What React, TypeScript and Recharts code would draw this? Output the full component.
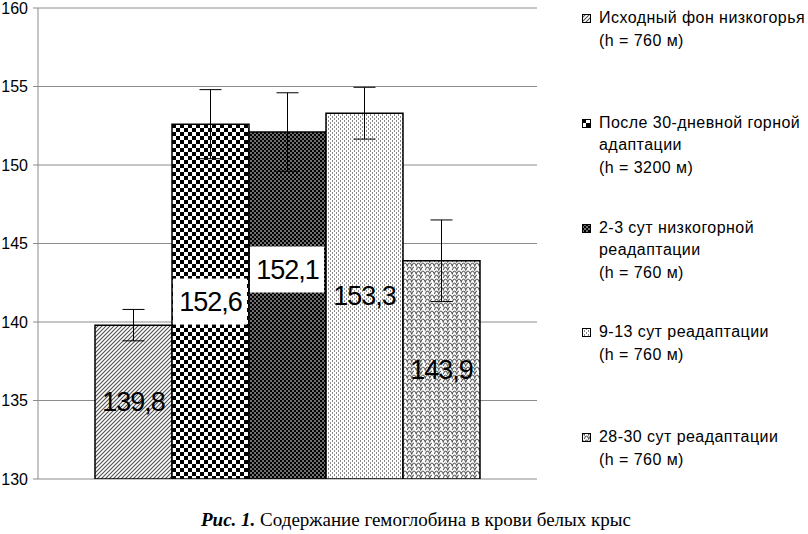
import React from "react";
import { BarChart, Bar, XAxis, YAxis, CartesianGrid, ErrorBar, LabelList } from "recharts";

// one category, five series (hemoglobin content)
const seriesKeys = ["s0", "s1", "s2", "s3", "s4"];
const seriesValues = [139.8, 152.6, 152.1, 153.3, 143.9];
const seriesErrors = [1.0, 2.2, 2.5, 1.65, 2.6];
const seriesNames = [
    ["Исходный фон низкогорья", "(h = 760 м)"],
    ["После 30-дневной горной", "адаптации", "(h = 3200 м)"],
    ["2-3 сут низкогорной", "реадаптации", "(h = 760 м)"],
    ["9-13 сут реадаптации", "(h = 760 м)"],
    ["28-30 сут реадаптации", "(h = 760 м)"],
];
const yTicks = [130, 135, 140, 145, 150, 155, 160];
const caption = "Содержание гемоглобина в крови белых крыс";

// label styling per series (white box + vertical shift)
const labelBox = [false, true, true, false, false];
const labelShift = [0, 0, -36, 0, 0];

const FONT = '"Liberation Sans", Arial, sans-serif';
const GRID = "#8c8c8c";

const data = [
    seriesKeys.reduce((row: any, key, i) => {
        row[key] = seriesValues[i];
        row["e" + i] = seriesErrors[i];
        return row;
    }, { name: "" }),
];

const fmt = (v: number) => v.toFixed(1).replace(".", ",");

function Patterns() {
    return (
        <defs>
            <pattern id="pat0" width="4" height="4" patternUnits="userSpaceOnUse">
                <rect width="4" height="4" fill="#fff" />
                <path d="M-1,1 l2,-2 M0,4 l4,-4 M3,5 l2,-2" stroke="#505050" strokeWidth="1.1" />
            </pattern>
            <pattern id="pat1" width="8" height="8" patternUnits="userSpaceOnUse">
                <rect width="8" height="8" fill="#fff" />
                <rect width="4" height="4" fill="#000" />
                <rect x="4" y="4" width="4" height="4" fill="#000" />
            </pattern>
            <pattern id="pat2" width="4" height="4" patternUnits="userSpaceOnUse">
                <rect width="4" height="4" fill="#707070" />
                <rect width="2" height="2" fill="#000" />
                <rect x="2" y="2" width="2" height="2" fill="#000" />
            </pattern>
            <pattern id="pat3" width="4" height="4" patternUnits="userSpaceOnUse">
                <rect width="4" height="4" fill="#fff" />
                <rect width="1" height="2" fill="#8a8a8a" />
                <rect x="2" y="2" width="1" height="2" fill="#8a8a8a" />
            </pattern>
            <pattern id="pat4" width="9" height="8" patternUnits="userSpaceOnUse">
                <rect width="9" height="8" fill="#fff" />
                <path d="M0,6 Q2.25,0 4.5,6 Q6.75,0 9,6 M-4.5,2 Q-2.25,-4 0,2 Q2.25,-4 4.5,2 Q6.75,-4 9,2 Q11.25,-4 13.5,2 M-4.5,10 Q-2.25,4 0,10 Q2.25,4 4.5,10 Q6.75,4 9,10 Q11.25,4 13.5,10"
                    stroke="#5a5a5a" strokeWidth="1.1" fill="none" transform="translate(2.25,0)" />
            </pattern>
        </defs>
    );
}

const makeLabel = (si: number) => (props: any) => {
    const x = Number(props.x), y = Number(props.y);
    const w = Number(props.width), h = Number(props.height);
    const cx = x + w / 2;
    const cy = y + h / 2 + labelShift[si];
    return (
        <g>
            {labelBox[si] && <rect x={x + 1} y={cy - 23} width={w - 3} height={46} fill="#fff" />}
            <text x={cx} y={cy} textAnchor="middle" dominantBaseline="central"
                fontFamily={FONT} fontSize={27} letterSpacing={-1} fill="#000">
                {fmt(Number(props.value))}
            </text>
        </g>
    );
};

function SeriesLegend() {
    return (
        <div style={{ position: "absolute", left: 580, top: 7, width: 228, fontFamily: FONT, fontSize: 16, letterSpacing: 0.45, color: "#000" }}>
            {seriesNames.map((lines, i) => (
                <div key={i} style={{ position: "absolute", top: i * 104.8, left: 0, whiteSpace: "nowrap", lineHeight: "22.5px" }}>
                    <svg width={9} height={9} style={{ position: "absolute", left: 2, top: 7 }}>
                        <rect x={0.5} y={0.5} width={8} height={8} fill={`url(#pat${i})`} stroke="#000" strokeWidth={1} />
                    </svg>
                    {lines.map((t, j) => (
                        <div key={j} style={{ paddingLeft: 19 }}>{t}</div>
                    ))}
                </div>
            ))}
        </div>
    );
}

export default function App() {
    return (
        <div style={{ position: "absolute", left: 0, top: 0, width: 808, height: 534, background: "#fff", overflow: "hidden" }}>
            <BarChart width={808} height={500} data={data} margin={{ top: 8, right: 271, left: 0, bottom: 21 }} barGap={0} barSize={77}>
                <Patterns />
                <CartesianGrid vertical={false} stroke={GRID} strokeWidth={1} />
                <XAxis dataKey="name" hide />
                <YAxis
                    domain={[130, 160]}
                    ticks={yTicks}
                    interval={0}
                    width={38}
                    tickSize={5}
                    tickMargin={5}
                    allowDataOverflow
                    axisLine={{ stroke: GRID }}
                    tickLine={{ stroke: GRID }}
                    tick={{ fill: "#000", fontSize: 16, fontFamily: FONT }}
                />
                {seriesKeys.map((key, i) => (
                    <Bar key={key} dataKey={key} name={seriesNames[i].join(" ")} fill={`url(#pat${i})`}
                        stroke="#000" strokeWidth={1.5} isAnimationActive={false}>
                        <ErrorBar dataKey={"e" + i} width={11} stroke="#000" strokeWidth={1} />
                        <LabelList dataKey={key} content={makeLabel(i)} />
                    </Bar>
                ))}
            </BarChart>
            <SeriesLegend />
            <div style={{ position: "absolute", left: 0, width: 832, top: 509, textAlign: "center", fontFamily: '"Liberation Serif", "Times New Roman", serif', fontSize: 19, color: "#000" }}>
                <b><i>Рис. 1.</i></b> {caption}
            </div>
        </div>
    );
}
